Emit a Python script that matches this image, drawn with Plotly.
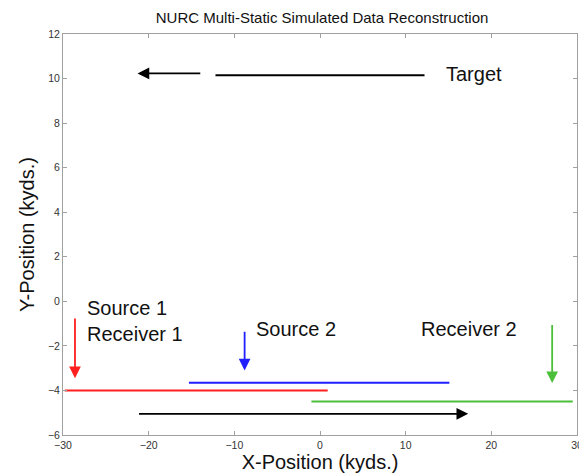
import plotly.graph_objects as go

# Track segments (x start, x end, y)
track_names = ["Source 1 / Receiver 1", "Source 2", "Receiver 2", "Target"]
track_x0 = [-29.8, -15.3, -1.0, -12.2]
track_x1 = [0.9, 15.1, 29.5, 12.2]
track_y = [-4.0, -3.65, -4.5, 10.15]
track_colors = ["#ff1f1f", "#1f1fff", "#4cbf3a", "#000000"]

# Arrows: (tail x, tail y) -> (tip x, tip y)
arrow_tail_x = [-13.8, -21.3, -28.6, -8.8, 27.1]
arrow_tail_y = [10.23, -5.05, -0.7, -1.3, -1.0]
arrow_tip_x = [-21.3, 17.3, -28.6, -8.8, 27.1]
arrow_tip_y = [10.23, -5.05, -3.45, -3.1, -3.67]
arrow_colors = ["#000000", "#000000", "#ff1f1f", "#1f1fff", "#4cbf3a"]

# Labels
label_text = ["Target", "Source 1<br>Receiver 1", "Source 2", "Receiver 2"]
label_x = [14.5, -27.4, -7.7, 11.5]
label_y = [10.2, -0.9, -1.25, -1.25]

FONT = "Liberation Sans, Arial"

fig = go.Figure()
for x0, x1, y, c in zip(track_x0, track_x1, track_y, track_colors):
    fig.add_trace(go.Scatter(x=[x0, x1], y=[y, y], mode="lines",
                             line=dict(color=c, width=2), showlegend=False,
                             hoverinfo="skip"))

for tx, ty, hx, hy, c in zip(arrow_tail_x, arrow_tail_y, arrow_tip_x, arrow_tip_y, arrow_colors):
    fig.add_annotation(x=hx, y=hy, ax=tx, ay=ty, xref="x", yref="y",
                       axref="x", ayref="y", text="", showarrow=True,
                       arrowhead=2, arrowsize=1.3, arrowwidth=1.8,
                       arrowcolor=c)

for t, x, y in zip(label_text, label_x, label_y):
    fig.add_annotation(x=x, y=y, text=t, showarrow=False, xanchor="left",
                       yanchor="middle", align="left",
                       font=dict(family=FONT, size=20, color="#111111"))

axis_common = dict(showgrid=False, zeroline=False, showline=True,
                   linecolor="#a0a0a0", linewidth=1, mirror="ticks",
                   ticks="inside", ticklen=4, tickcolor="#a0a0a0",
                   tickfont=dict(family=FONT, size=10.5, color="#333333"))

fig.update_xaxes(range=[-30, 30], tick0=-30, dtick=10,
                 title=dict(text="X-Position (kyds.)", standoff=4,
                            font=dict(family=FONT, size=20, color="#111111")),
                 **axis_common)
fig.update_yaxes(range=[-6, 12], tick0=-6, dtick=2,
                 title=dict(text="Y-Position (kyds.)", standoff=7,
                            font=dict(family=FONT, size=20, color="#111111")),
                 **axis_common)

fig.update_layout(
    width=587, height=473,
    margin=dict(l=55, r=12, t=26, b=46),
    plot_bgcolor="white", paper_bgcolor="white",
    title=dict(text="NURC Multi-Static Simulated Data Reconstruction",
               x=0.535, xanchor="center", y=0.979, yanchor="middle",
               font=dict(family=FONT, size=15, color="#111111")),
    showlegend=False,
)

fig.write_html("out.html")
